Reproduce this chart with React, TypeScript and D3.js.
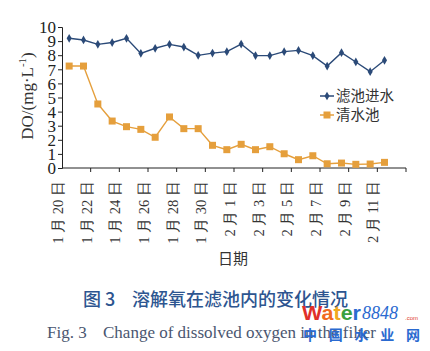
import React, {useEffect, useRef} from 'react';
import * as d3 from 'd3';

// dates on the category axis (last slot is empty)
const categories = [
    '1 月 20 日', '1 月 21 日', '1 月 22 日', '1 月 23 日', '1 月 24 日', '1 月 25 日',
    '1 月 26 日', '1 月 27 日', '1 月 28 日', '1 月 29 日', '1 月 30 日', '1 月 31 日',
    '2 月 1 日', '2 月 2 日', '2 月 3 日', '2 月 4 日', '2 月 5 日', '2 月 6 日',
    '2 月 7 日', '2 月 8 日', '2 月 9 日', '2 月 10 日', '2 月 11 日', '2 月 12 日',
];
const filterInlet = [9.2, 9.08, 8.77, 8.9, 9.2, 8.13, 8.49, 8.77, 8.58, 7.99, 8.15, 8.25,
    8.79, 7.97, 7.97, 8.25, 8.34, 7.97, 7.23, 8.18, 7.52, 6.83, 7.64];
const clearWell = [7.23, 7.23, 4.54, 3.33, 2.93, 2.74, 2.18, 3.62, 2.79, 2.79, 1.61, 1.3,
    1.68, 1.3, 1.51, 1.01, 0.59, 0.87, 0.3, 0.35, 0.26, 0.28, 0.4];
const yTicks = [0, 1, 2, 3, 4, 5, 6, 7, 8, 9, 10];
const seriesNames = ['滤池进水', '清水池'];

const BLUE = '#2b4a78';
const ORANGE = '#e59f3c';
const SERIF = '"Liberation Serif", "DejaVu Serif", serif';
const CJK = '"Noto Sans CJK SC", sans-serif';
const WM_BLUE = '#2a6ad0';

const App = () => {
    const svgRef = useRef(null);
    const width = 430;
    const height = 351;

    useEffect(() => {
        const svg = d3.select(svgRef.current);
        svg.selectAll('*').remove();

        const margin = {top: 27, left: 62, right: 24, bottom: 183};
        const x = d3.scaleBand().domain(categories)
            .range([margin.left, width - margin.right]).padding(0);
        const y = d3.scaleLinear().domain([0, 10])
            .range([height - margin.bottom, margin.top]);
        const cx = (i) => x(categories[i]) + x.bandwidth() / 2;

        svg.append('rect').attr('width', width).attr('height', height).attr('fill', '#fff');

        // y axis
        const yAxis = svg.append('g').attr('transform', `translate(${margin.left},0)`)
            .call(d3.axisLeft(y).tickValues(yTicks).tickSize(4).tickPadding(2));
        yAxis.select('.domain').attr('stroke', '#222');
        yAxis.selectAll('.tick line').attr('stroke', '#222');
        yAxis.selectAll('text').attr('font-family', SERIF).attr('font-size', 17)
            .attr('fill', '#222').attr('dy', '0.34em');

        // x axis
        const y0 = y(0);
        svg.append('line').attr('x1', margin.left).attr('x2', width - margin.right)
            .attr('y1', y0).attr('y2', y0).attr('stroke', '#222');
        categories.forEach((c, i) => {
            if (i % 2 === 0 && i > 0) {
                svg.append('line').attr('x1', x(c)).attr('x2', x(c))
                    .attr('y1', y0).attr('y2', y0 + 4).attr('stroke', '#222');
            }
        });
        svg.append('line').attr('x1', width - margin.right).attr('x2', width - margin.right)
            .attr('y1', y0).attr('y2', y0 + 4).attr('stroke', '#222');

        categories.forEach((c, i) => {
            if (i % 2 !== 0 || i >= 23) return;
            const lx = x(c) + 1;
            svg.append('text')
                .attr('transform', `translate(${lx},181) rotate(-90)`)
                .attr('text-anchor', 'end')
                .attr('font-family', SERIF).attr('font-size', 14.5).attr('fill', '#333')
                .text(c);
        });

        svg.append('text').attr('x', 233).attr('y', 264).attr('text-anchor', 'middle')
            .attr('font-family', CJK).attr('font-size', 15).attr('fill', '#333').text('日期');

        // y title
        const yt = svg.append('text')
            .attr('transform', 'translate(33,96) rotate(-90)')
            .attr('text-anchor', 'middle')
            .attr('font-family', SERIF).attr('font-size', 17).attr('fill', '#333');
        yt.append('tspan').text('DO/(mg·L');
        yt.append('tspan').attr('font-size', 11).attr('dy', -7).text('-1');
        yt.append('tspan').attr('dy', 7).text(')');

        const line = d3.line().x((d, i) => cx(i)).y((d) => y(d));

        // clear well (orange squares)
        svg.append('path').datum(clearWell).attr('d', line)
            .attr('fill', 'none').attr('stroke', ORANGE).attr('stroke-width', 1.4);
        svg.append('g').selectAll('rect').data(clearWell).join('rect')
            .attr('x', (d, i) => cx(i) - 3.5).attr('y', (d) => y(d) - 3.5)
            .attr('width', 7).attr('height', 7).attr('fill', ORANGE);

        // filter inlet (blue diamonds)
        svg.append('path').datum(filterInlet).attr('d', line)
            .attr('fill', 'none').attr('stroke', BLUE).attr('stroke-width', 1.4);
        const diamond = d3.symbol().type(d3.symbolDiamond).size(22);
        svg.append('g').selectAll('path').data(filterInlet).join('path')
            .attr('d', diamond)
            .attr('transform', (d, i) => `translate(${cx(i)},${y(d)})`)
            .attr('fill', BLUE);

        // legend
        const legend = svg.append('g').attr('transform', 'translate(320,96)');
        [BLUE, ORANGE].forEach((col, i) => {
            const g = legend.append('g').attr('transform', `translate(0,${i * 19})`);
            g.append('line').attr('x1', 0).attr('x2', 14).attr('stroke', col).attr('stroke-width', 1.5);
            if (i === 0) {
                g.append('path').attr('d', diamond).attr('transform', 'translate(7,0)').attr('fill', col);
            } else {
                g.append('rect').attr('x', 3.5).attr('y', -3.5).attr('width', 7).attr('height', 7).attr('fill', col);
            }
            g.append('text').attr('x', 16).attr('dy', '0.35em')
                .attr('font-family', CJK).attr('font-size', 14.5).attr('fill', '#333')
                .text(seriesNames[i]);
        });

        // captions
        svg.append('text').attr('x', 83).attr('y', 306)
            .attr('font-family', CJK).attr('font-size', 18).attr('fill', '#2d5590')
            .attr('font-weight', 500).text('图 3');
        svg.append('text').attr('x', 132).attr('y', 306)
            .attr('font-family', CJK).attr('font-size', 18).attr('fill', '#2d5590')
            .attr('font-weight', 500).text('溶解氧在滤池内的变化情况');
        svg.append('text').attr('x', 47).attr('y', 338)
            .attr('font-family', SERIF).attr('font-size', 17).attr('fill', '#4a5670')
            .text('Fig. 3');
        svg.append('text').attr('x', 103).attr('y', 338)
            .attr('font-family', SERIF).attr('font-size', 17).attr('fill', '#4a5670')
            .text('Change of dissolved oxygen in the filter');

        // watermark
        const wm = svg.append('g');
        const wt = wm.append('text').attr('x', 302).attr('y', 320)
            .attr('font-family', '"Liberation Sans", Arial, sans-serif').attr('font-weight', 'bold')
            .attr('font-size', 21).attr('textLength', 59).attr('lengthAdjust', 'spacingAndGlyphs');
        [['W', '#e0302a'], ['a', '#f06a20'], ['t', '#f0a820'], ['e', '#3aa040'], ['r', WM_BLUE]]
            .forEach(([ch, col]) => wt.append('tspan').attr('fill', col).text(ch));
        wm.append('text').attr('x', 362).attr('y', 319)
            .attr('font-family', SERIF).attr('font-style', 'italic').attr('font-size', 18)
            .attr('fill', WM_BLUE).text('8848');
        wm.append('text').attr('x', 405).attr('y', 320)
            .attr('font-family', '"Liberation Sans", sans-serif').attr('font-size', 6)
            .attr('fill', '#e03a2a').text('.com');
        wm.append('text').attr('x', 303).attr('y', 340)
            .attr('font-family', CJK).attr('font-weight', 'bold').attr('font-size', 14)
            .attr('fill', WM_BLUE).attr('textLength', 117).attr('lengthAdjust', 'spacing')
            .text('中国水业网');
    }, []);

    return (
        <svg ref={svgRef} width={width} height={height}
             style={{position: 'absolute', left: 0, top: 0, display: 'block'}}></svg>
    );
};

export default App;
